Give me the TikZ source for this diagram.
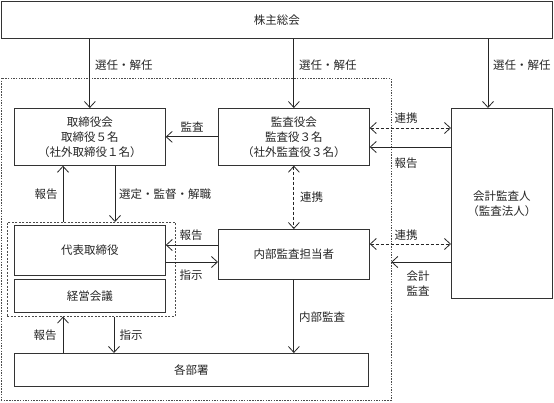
\documentclass[tikz,border=0pt]{standalone}
\usepackage{fontspec}
\setmainfont{Noto Sans CJK JP}
\usetikzlibrary{arrows.meta}
\tikzset{
  box/.style={draw=black!80, line width=0.7pt, fill=white, inner sep=0pt, anchor=north west, align=center,
    font=\fontsize{11.5}{15}\selectfont, text=black!85},
  lbl/.style={inner sep=0pt, font=\fontsize{11.5}{15}\selectfont, text=black!85, align=center},
  arr/.style={draw=black!85, line width=0.8pt, -{Straight Barb[length=6pt,width=11pt,line width=0.8pt]}},
  darr/.style={draw=black!85, line width=0.8pt, dash pattern=on 3pt off 2pt,
    {Straight Barb[length=6pt,width=11pt,line width=0.8pt]}-{Straight Barb[length=6pt,width=11pt,line width=0.8pt]}},
  outerbox/.style={draw=black!70, line width=0.6pt, dash pattern=on 1.5pt off 1.2pt, inner sep=0pt, anchor=north west},
  grpbox/.style={draw=black!70, line width=0.6pt, dash pattern=on 2pt off 1.5pt, inner sep=0pt, anchor=north west}
}
\begin{document}
\begin{tikzpicture}[x=1pt,y=-1pt]
\useasboundingbox (0,0) rectangle (554,402);
% outer dashed region
\node[outerbox, minimum width=390pt, minimum height=322pt] (outer) at (0.6,78) {};
% inner dashed group
\node[grpbox, minimum width=168pt, minimum height=94pt] (grp) at (7,222) {};
% boxes
\node[box, minimum width=551pt, minimum height=37pt] (sh) at (1,1) {株主総会};
\node[box, minimum width=151pt, minimum height=57pt] (tb) at (14,108) {取締役会\\取締役５名\\（社外取締役１名）};
\node[box, minimum width=151pt, minimum height=57pt] (kb) at (218,108) {監査役会\\監査役３名\\（社外監査役３名）};
\node[box, minimum width=101pt, minimum height=190pt] (ka) at (451,108) {会計監査人\\（監査法人）};
\node[box, minimum width=151pt, minimum height=50pt] (dh) at (14,225) {代表取締役};
\node[box, minimum width=151pt, minimum height=33pt] (kk) at (14,279) {経営会議};
\node[box, minimum width=151pt, minimum height=50pt] (nb) at (218,229) {内部監査担当者};
\node[box, minimum width=354pt, minimum height=33pt] (kbs) at (14,353) {各部署};
% shareholders arrows
\draw[arr] (sh.south -| tb.north) -- (tb.north);
\draw[arr] (sh.south -| kb.north) -- (kb.north);
\draw[arr] (sh.south -| 488,0) -- (ka.north -| 488,0);
\node[lbl, anchor=west] (l1) at (95,65) {選任・解任};
\node[lbl, anchor=west] (l2) at (299,65) {選任・解任};
\node[lbl, anchor=west] (l3) at (493,65) {選任・解任};
% audit
\draw[arr] (kb.west) -- (tb.east);
\node[lbl] (l4) at (192,127) {監査};
% board <-> representative
\draw[arr] (grp.north -| 63,0) -- (tb.south -| 63,0);
\node[lbl] (l5) at (46,194) {報告};
\draw[arr] (tb.south -| 115,0) -- (grp.north -| 115,0);
\node[lbl, anchor=west] (l6) at (119,194) {選定・監督・解職};
% kb <-> ka
\draw[darr] (kb.east |- 0,128) -- (ka.west |- 0,128);
\node[lbl] (l7) at (406,118) {連携};
\draw[arr] (ka.west |- 0,147) -- (kb.east |- 0,147);
\node[lbl] (l8) at (406,163) {報告};
% kb <-> nb
\draw[darr] (kb.south) -- (nb.north);
\node[lbl, anchor=west] (l9) at (300,197) {連携};
% nb <-> dh
\draw[arr] (nb.west |- 0,245) -- (dh.east |- 0,245);
\node[lbl] (l10) at (191,235) {報告};
\draw[arr] (dh.east |- 0,262) -- (nb.west |- 0,262);
\node[lbl] (l11) at (191,275) {指示};
% nb <-> ka
\draw[darr] (nb.east |- 0,244) -- (ka.west |- 0,244);
\node[lbl] (l12) at (406,235) {連携};
\draw[arr] (ka.west |- 0,262) -- (outer.east |- 0,262);
\node[lbl] (l13) at (418,284) {会計\\監査};
% internal audit
\draw[arr] (nb.south) -- (kbs.north -| nb.south);
\node[lbl, anchor=west] (l14) at (299,317) {内部監査};
% departments
\draw[arr] (kbs.north -| 63,0) -- (grp.south -| 63,0);
\node[lbl] (l15) at (45,335) {報告};
\draw[arr] (grp.south -| 114,0) -- (kbs.north -| 114,0);
\node[lbl] (l16) at (131,335) {指示};
\end{tikzpicture}
\end{document}
